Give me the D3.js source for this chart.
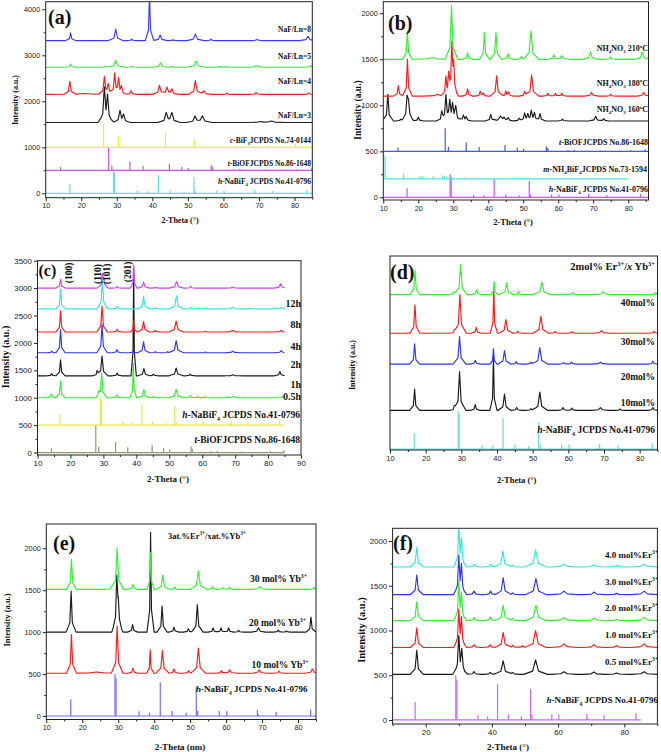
<!DOCTYPE html>
<html><head><meta charset="utf-8">
<script src="https://cdn.jsdelivr.net/npm/d3@7"></script>
<style>body{margin:0;background:#fff}svg{display:block}</style>
</head><body>
<script>
// ================= DATA =================
// Reference stick patterns [2theta, relative intensity]
const hNaBiF4 = [[16.8,200],[29.1,500],[29.4,450],[35.8,55],[38.7,40],[41.7,400],[45.0,60],[48.9,40],[51.7,350],[52.1,60],[58.1,60],[60.2,60],[68.7,70],[69.0,20],[73.9,50],[83.5,75]];
const tBiOF = [[14.2,80],[27.7,500],[28.6,100],[33.7,190],[37.4,95],[44.8,140],[48.3,80],[50.1,50],[56.6,110],[57.0,70],[62.8,25],[64.6,30],[72.0,20],[77.5,15],[80.7,25],[84.8,40]];
const cBiF3 = [[15.2,10],[26.3,500],[30.5,240],[43.7,330],[51.8,170],[54.3,40],[63.5,30],[70.2,30],[72.2,40],[80.2,80]];
const mNH4BiF4 = [[10.5,250],[15.8,50],[20.5,30],[21.3,30],[24.3,30],[26.9,40],[27.5,30],[28.0,20],[33.4,15],[36.2,10],[38.0,10],[43.6,10],[48.6,10],[50.0,10],[51.0,10]];

// Tick labels
const xTicks10to80 = [10,20,30,40,50,60,70,80];
const xTicks10to90 = [10,20,30,40,50,60,70,80,90];
const xTicksF = [20,40,60,80];
const aYTicks = [0,1000,2000,3000,4000];
const bYTicks = [0,500,1000,1500,2000];
const cYTicks = [0,500,1000,1500,2000,2500,3000,3500];
const eYTicks = [0,500,1000,1500,2000];
const fYTicks = [0,500,1000,1500,2000];

// Panel (a): NaF/Ln ratio  — peaks [2theta, height, halfwidth?]
const aSeries = ["NaF/Ln=8","NaF/Ln=5","NaF/Ln=4","NaF/Ln=3"];
const aOffsets = [3320,2740,2150,1540];
const aPeaks = [
 [[17.0,170],[29.7,250,0.5],[34.2,30],[39.2,1000,0.3],[42.2,120,0.5],[45.8,15],[52.1,140,0.6],[56.5,30],[69.5,25,0.6],[83.8,90,0.6]],
 [[17.0,70],[26.8,25],[29.7,150,0.6],[34.2,25],[42.3,100,0.5],[45.5,20],[52.3,140,0.6],[59,15],[61,15],[69.3,40,0.6],[84.5,30,0.6]],
 [[16.8,280],[21,20,3],[26.5,370],[27.6,200],[29.4,440],[30.5,300],[31.3,150],[34.0,80],[42.0,200,0.5],[44.1,150,0.5],[45.5,110,0.5],[52.1,300,0.5],[54.5,80,0.6],[61,30],[69.2,40],[84,30]],
 [[26.5,700,0.45],[27.4,510,0.45],[30.9,240],[31.9,150],[43.9,200,0.6],[45.5,200,0.6],[52.0,130,0.6],[54.1,140,0.7],[70.4,20,1],[73.5,30,1]]
];

// Panel (b): NH4NO3 temperature
const bSeries = ["210","180","160"];
const bOffsets = [1500,1100,830];
const bPeaks = [
 [[16.9,310],[24,20,1.5],[29.5,580,0.45],[34.1,70],[38.9,290],[42.2,290,0.4],[45.6,60],[49.5,30],[52.2,310,0.55],[58.7,50],[61,40,0.5],[69.2,80,0.5],[74.9,25],[84,80,0.5]],
 [[14.3,115],[16.9,400],[25.5,20,1],[27.9,190],[28.7,190],[29.6,520],[30.1,300],[34.1,80],[37.7,50],[38.6,30],[42.4,220,0.45],[45.0,50],[45.8,40],[50.4,50],[52.4,230,0.5],[57,30],[59.2,30],[61,30],[69.5,40,0.5],[75,20],[84.4,40,0.5]],
 [[11.3,290],[15,20],[16.8,240],[17.2,180],[20.0,40],[26.7,90],[27.9,265],[29.0,180],[29.8,150],[30.7,150,0.5],[32.9,60],[33.7,40],[40.7,70],[43.5,50,0.8],[44.5,30],[45.7,30],[48.8,30],[50.4,80],[51.3,60],[52.3,100],[53.2,80],[54.8,80],[61.2,20],[70.7,50,0.5],[73,25]]
];

// Panel (c): reaction time
const cSeries = ["12h","8h","4h","2h","1h","0.5h"];
const cOffsets = [3000,2620,2200,1820,1400,1000];
const cPeaks = [
 [[17.0,165],[29.7,240,0.4],[30.1,120],[34.2,30],[39.2,420,0.25],[42.2,110,0.45],[45.8,15],[52.2,120,0.55],[56.5,30],[69.3,20,0.6],[83.8,80,0.5]],
 [[17.0,360],[29.7,560,0.4],[34.2,50],[42.2,230,0.45],[45.8,20],[52.2,240,0.55],[56.5,30],[59,20],[61,20],[69.3,30,0.6],[74.5,15],[84,30,0.5]],
 [[17.0,380],[29.6,470,0.4],[34.2,50],[39.2,200,0.25],[42.2,190,0.45],[45.8,30],[52.1,200,0.55],[61,15],[69.3,30,0.6],[84,30,0.5]],
 [[14.3,30],[17.0,420],[29.6,510,0.4],[34.1,60],[39.0,30],[42.2,200,0.45],[45.8,20],[49.5,20],[52.1,220,0.55],[61,15],[69.3,30,0.6],[84,40,0.5]],
 [[14.3,40],[17.0,290],[28.1,80],[29.6,360,0.45],[34.2,50],[39.2,1950,0.2],[42.3,130,0.45],[45.2,30],[52.1,140,0.55],[56.4,30],[69.3,20,0.6],[83.6,80,0.4]],
 [[14.2,70],[17.0,305],[28.6,70],[29.5,445,0.4],[34.1,50],[39.1,630,0.25],[42.3,150,0.45],[45.3,25],[52.1,150,0.55],[56.4,40],[58.7,20],[61,20],[69.3,25,0.6],[84.5,20,0.5]]
];

// Panel (d): Yb content
const dSeries = ["40mol%","30mol%","20mol%","10mol%"];
const dOffsets = [1600,1200,880,400];
const dPeaks = [
 [[17.0,255],[27.9,30],[29.8,310,0.45],[34.3,50],[39.2,135,0.25],[42.7,120,0.5],[46.0,30],[52.6,130,0.6],[61.3,20],[69.8,30,0.6],[84.5,20]],
 [[17.0,295],[28,20],[29.6,400,0.45],[34.2,60],[39.1,460,0.25],[42.5,140,0.5],[45.8,20],[52.3,175,0.55],[56.3,20],[61.1,15],[69.3,25,0.6],[84,20]],
 [[16.9,210],[29.5,285,0.45],[33.9,40],[39.0,160,0.25],[42.1,140,0.45],[45.4,25],[49.5,20],[52.0,170,0.55],[58.7,15],[60.9,20],[69,20,0.6],[83.7,30]],
 [[16.9,220],[28,30],[29.5,400,0.45],[33.9,60],[39.0,560,0.25],[42.1,170,0.45],[45.5,30],[49.5,20],[52.0,190,0.55],[58.5,30],[61,25],[69,30,0.6],[74.5,15],[83.7,30]]
];

// Panel (e): Yb content
const eSeries = ["30","20","10"];
const eOffsets = [1510,1000,510];
const ePeaks = [
 [[17.0,360],[28,20],[29.7,490,0.45],[34.1,60],[39.0,440,0.25],[42.4,170,0.45],[45.7,30],[52.3,220,0.55],[56.2,30],[59,20],[61,25],[69.5,35,0.6],[84.5,25]],
 [[16.9,490],[29.6,620,0.35],[30.0,300],[34.0,90],[39.0,1190,0.25],[42.2,310,0.35],[45.5,60],[49.5,40],[52.0,330,0.4],[56.4,50],[58.6,50],[60.7,50],[63.5,20],[69,50,0.5],[74.5,25],[76.8,15],[83.6,180,0.35]],
 [[17.0,460],[24,15,2],[29.7,560,0.4],[34.1,60],[38.9,280,0.25],[42.3,270,0.45],[45.5,50],[49.6,30],[52.3,300,0.5],[58.7,30],[61,40,0.5],[69.2,40,0.5],[74.7,25],[84,50,0.5]]
];

// Panel (f): Er content
const fSeries = ["4.0","3.0","2.0","1.0","0.5"];
const fOffsets = [1710,1400,1110,810,510];
const fPeaks = [
 [[17.3,220],[30.0,430,0.4],[30.8,260,0.4],[34.6,30],[39.6,30],[43.3,180,0.6],[46.3,20],[53.2,190,0.8],[61.8,30,1],[70.9,25,0.8],[77.7,15,0.8],[86.0,30,1]],
 [[17.3,220],[30.0,400,0.4],[30.8,290,0.4],[34.6,40],[39.6,40],[43.4,190,0.6],[46.3,20],[53.3,180,0.8],[61.8,40,1],[70.9,30,0.8],[77.7,15,0.8],[86,40,1]],
 [[17.3,210],[30.0,400,0.4],[30.8,260,0.4],[34.6,35],[39.5,40],[43.4,170,0.6],[46.2,25],[53.3,170,0.8],[61.8,35,1],[70.9,30,0.8],[77.7,15,0.8],[86,40,1]],
 [[17.3,220],[30.0,390,0.4],[30.8,290,0.4],[34.6,30],[39.4,30],[43.4,170,0.6],[46.3,25],[49.2,20],[53.2,190,0.8],[61.8,40,1],[70.8,30,0.8],[77.7,20,0.8],[86,40,1]],
 [[17.3,270,0.5],[30.0,400,0.45],[30.9,230,0.45],[34.6,30],[39.5,20],[43.4,150,0.7],[46.3,20],[53.2,160,0.9],[61.8,30,1],[70.8,25,0.8],[77.7,15,0.8],[86,30,1]]
];

// ================= COLOURS =================
const GREEN="#33ee33", RED="#ff1a1a", BLUE="#2f35f0", BLACK="#1a1a1a", VIOLET="#cc44ee", CYAN="#33e6e0";

// ================= DRAWING =================
const svg = d3.select("body").append("svg").attr("width",661).attr("height",752)
  .style("font-family","'Liberation Serif','Times New Roman',serif");

function curve(peaks, base, w0, xr){
  const comps=[];
  peaks.forEach(p=>{const w=p[2]||w0; comps.push([p[0],p[1]*0.7,w]); comps.push([p[0],p[1]*0.3,w*4]);});
  const xs=new Set([xr[0],xr[1]]);
  comps.forEach(c=>[c[0]-c[2],c[0],c[0]+c[2]].forEach(v=>{if(v>xr[0]&&v<xr[1])xs.add(v);}));
  return [...xs].sort((a,b)=>a-b).map(x=>[x, base+d3.sum(comps,c=>Math.max(0,1-Math.abs(x-c[0])/c[2])*c[1])]);
}

function rich(sel, str, fs){
  const parts=str.split(/(\*[^*]+\*|_\{[^}]+\}|\^\{[^}]+\})/).filter(s=>s.length);
  let shift=0;
  parts.forEach(p=>{
    let t=p, target=0, size=fs, it=false;
    if(p[0]==="*"){t=p.slice(1,-1);it=true;}
    else if(p.startsWith("_{")){t=p.slice(2,-1);target=fs*0.28;size=fs*0.62;}
    else if(p.startsWith("^{")){t=p.slice(2,-1);target=-fs*0.42;size=fs*0.62;}
    const ts=sel.append("tspan").text(t).attr("dy",(target-shift).toFixed(2)).attr("font-size",size);
    if(it) ts.attr("font-style","italic");
    shift=target;
  });
}

function text(g, t, x, y, fs, anchor, rot){
  const el=g.append("text").attr("font-weight","bold").attr("font-size",fs)
    .attr("text-anchor",anchor||"start").attr("fill","#111");
  if(rot){ el.attr("transform",`translate(${x},${y}) rotate(-90)`); }
  else el.attr("x",x).attr("y",y);
  rich(el,t,fs);
  return el;
}

let clipId=0;
function panel(cfg){
  const g=svg.append("g");
  const x=d3.scaleLinear().domain(cfg.xd).range([cfg.x0,cfg.x1]);
  const y=d3.scaleLinear().domain(cfg.yd).range([cfg.y1,cfg.y0]);
  const cid="clip"+(clipId++);
  g.append("clipPath").attr("id",cid).append("rect")
    .attr("x",cfg.x0).attr("y",cfg.y0).attr("width",cfg.x1-cfg.x0).attr("height",cfg.y1-cfg.y0);
  const plot=g.append("g").attr("clip-path",`url(#${cid})`);
  const line=d3.line().x(d=>x(d[0])).y(d=>y(d[1]));
  (cfg.sticks||[]).forEach(s=>{
    const sg=plot.append("g").attr("stroke",s.color).attr("stroke-width",1.2);
    sg.append("path").attr("fill","none").attr("d",line([[s.range[0],s.base],[s.range[1],s.base]]));
    sg.selectAll("line.st").data(s.data).join("line")
      .attr("x1",d=>x(d[0])).attr("x2",d=>x(d[0]))
      .attr("y1",y(s.base)).attr("y2",d=>y(s.base+d[1]*s.scale));
  });
  (cfg.series||[]).forEach(s=>{
    plot.append("path").attr("fill","none").attr("stroke",s.color).attr("stroke-width",1.15)
      .attr("stroke-linejoin","round")
      .attr("d",line(curve(s.peaks,s.base,s.w,s.range||[cfg.xd[0],cfg.xd[1]])));
  });
  g.append("rect").attr("x",cfg.x0).attr("y",cfg.y0).attr("width",cfg.x1-cfg.x0).attr("height",cfg.y1-cfg.y0)
    .attr("fill","none").attr("stroke","#222").attr("stroke-width",1);
  const tf=g=>g.selectAll("text").attr("font-family","'Liberation Sans',Arial,sans-serif").attr("font-size",cfg.tickFs).attr("fill","#222");
  const xa=g.append("g").attr("transform",`translate(0,${cfg.y1})`)
    .call(d3.axisBottom(x).tickValues(cfg.xticks).tickSize(3.5).tickPadding(2).tickFormat(d3.format("d")));
  xa.call(tf); xa.select(".domain").remove();
  const xm=g.append("g").attr("transform",`translate(0,${cfg.y1})`)
    .call(d3.axisBottom(x).tickValues(cfg.xminor).tickSize(2).tickFormat(""));
  xm.select(".domain").remove();
  if(cfg.yticks){
    const ya=g.append("g").attr("transform",`translate(${cfg.x0},0)`)
      .call(d3.axisLeft(y).tickValues(cfg.yticks).tickSize(3.5).tickPadding(2).tickFormat(d3.format("d")));
    ya.call(tf); ya.select(".domain").remove();
    const ym=g.append("g").attr("transform",`translate(${cfg.x0},0)`)
      .call(d3.axisLeft(y).tickValues(cfg.yminor).tickSize(2).tickFormat(""));
    ym.select(".domain").remove();
  }
  g.selectAll(".tick line").attr("stroke","#222");
  (cfg.texts||[]).forEach(t=>text(g,t[0],t[1],t[2],t[3],t[4],t[5]));
  return g;
}
const minor=(a,b,s)=>d3.range(a,b+1e-9,s);
const NaLabel="*h*-NaBiF_{4} JCPDS No.41-0796";

// (a)
panel({x0:45.7,x1:312.3,y0:1.7,y1:197.7,xd:[10,85],yd:[-95,4165],
  xticks:xTicks10to80,xminor:minor(15,85,10),yticks:aYTicks,yminor:[500,1500,2500,3500],tickFs:7.3,
  sticks:[{data:hNaBiF4,base:0,scale:1,color:"#5fe0e0",range:[10,85]},
          {data:tBiOF,base:500,scale:1,color:"#cc55ee",range:[10,85]},
          {data:cBiF3,base:1000,scale:1,color:"#eeee33",range:[10,85]}],
  series:[{peaks:aPeaks[3],base:aOffsets[3],w:0.5,color:BLACK},
          {peaks:aPeaks[2],base:aOffsets[2],w:0.4,color:RED},
          {peaks:aPeaks[1],base:aOffsets[1],w:0.4,color:GREEN},
          {peaks:aPeaks[0],base:aOffsets[0],w:0.35,color:"#3b3bff"}],
  texts:[["(a)",48,24,20],
    [aSeries[0],311,32,7.5,"end"],[aSeries[1],311,59,7.5,"end"],[aSeries[2],311,83.5,7.5,"end"],[aSeries[3],311,117.5,7.5,"end"],
    ["*c*-BiF_{3}JCPDS No.74-0144",311,142.5,7.5,"end"],["*t*-BiOFJCPDS No.86-1648",311,166,7.5,"end"],[NaLabel,311,184,7.5,"end"],
    ["Intensity (a.u.)",18,100,8,"middle",true],["2-Theta (°)",180,223,8,"middle"]]
});

// (b)
panel({x0:383.3,x1:648.5,y0:1.7,y1:200,xd:[10,85.8],yd:[-29,2126],
  xticks:xTicks10to80,xminor:minor(15,85,10),yticks:bYTicks,yminor:[250,750,1250,1750],tickFs:7.3,
  sticks:[{data:hNaBiF4,base:0,scale:0.5,color:"#cc55ee",range:[10,85.8]},
          {data:mNH4BiF4,base:200,scale:1,color:"#44e8e0",range:[10,80]},
          {data:tBiOF,base:500,scale:0.5,color:"#4455ee",range:[10,85.8]}],
  series:[{peaks:bPeaks[2],base:bOffsets[2],w:0.4,color:BLACK},
          {peaks:bPeaks[1],base:bOffsets[1],w:0.35,color:RED},
          {peaks:bPeaks[0],base:bOffsets[0],w:0.35,color:GREEN}],
  texts:[["(b)",388,30,20],
    ["NH_{4}NO_{3} "+bSeries[0]+"^{o}C",648,51,8,"end"],["NH_{4}NO_{3} "+bSeries[1]+"^{o}C",648,85.5,8,"end"],["NH_{4}NO_{3} "+bSeries[2]+"^{o}C",648,112,8,"end"],
    ["*t*-BiOFJCPDS No.86-1648",648,144.5,8,"end"],["*m*-NH_{4}BiF_{4}JCPDS No.73-1594",647,172,8,"end"],[NaLabel,648,192,8,"end"],
    ["Intensity (a.u.)",361,110,9.5,"middle",true],["2-Theta (°)",513,225,8.5,"middle"]]
});

// (c)
panel({x0:37.5,x1:301,y0:260.7,y1:455,xd:[10,90],yd:[-45,3500],
  xticks:xTicks10to90,xminor:minor(15,85,10),yticks:cYTicks,yminor:minor(250,3250,500),tickFs:8,
  sticks:[{data:tBiOF,base:0,scale:1,color:"#8c9a6e",range:[10,85]},
          {data:hNaBiF4,base:500,scale:1,color:"#e8e840",range:[10,85]}],
  series:[5,4,3,2,1,0].map(i=>({peaks:cPeaks[i],base:cOffsets[i],w:0.35,range:[10,85],
          color:[VIOLET,CYAN,RED,BLUE,BLACK,GREEN][i]})),
  texts:[["(c)",38.5,276,16],
    ["(100)",72,273,9.5,"middle",true],["(110)",101,274,9.5,"middle",true],["(101)",110,274,9.5,"middle",true],["(201)",131,272,9.5,"middle",true],
    [cSeries[0],301,307,10,"end"],[cSeries[1],301,328,10,"end"],[cSeries[2],301,350,10,"end"],[cSeries[3],301,368,10,"end"],[cSeries[4],301,388,10,"end"],[cSeries[5],301,400,10,"end"],
    [NaLabel,300,418,9.5,"end"],["*t*-BiOFJCPDS No.86-1648",300,443,9.5,"end"],
    ["Intensity (a.u.)",8.5,357,10,"middle",true],["2-Theta (°)",168,482,9,"middle"]]
});

// (d)
panel({x0:390,x1:657.5,y0:256,y1:450,xd:[10,85],yd:[-10,2000],
  xticks:xTicks10to80,xminor:minor(15,85,10),tickFs:7.5,
  sticks:[{data:hNaBiF4,base:0,scale:0.8,color:"#5fe0d8",range:[10,85]}],
  series:[3,2,1,0].map(i=>({peaks:dPeaks[i],base:dOffsets[i],w:0.35,color:[GREEN,RED,BLUE,BLACK][i]})),
  texts:[["(d)",390,279,20],["2mol% Er^{3+}/*x* Yb^{3+}",655,270,10.5,"end"],
    [dSeries[0],655,306,9.5,"end"],[dSeries[1],655,345,9.5,"end"],[dSeries[2],655,380,9.5,"end"],[dSeries[3],655,406,9.5,"end"],
    [NaLabel,655,433,9.5,"end"],
    ["Intensity (a.u.)",354.5,365,8,"middle",true],["2-Theta (°)",516.7,483,8.5,"middle"]]
});

// (e)
panel({x0:46.3,x1:316,y0:524,y1:719.5,xd:[10,85],yd:[-42,2290],
  xticks:xTicks10to80,xminor:minor(15,85,10),yticks:eYTicks,yminor:[250,750,1250,1750],tickFs:7.3,
  sticks:[{data:hNaBiF4,base:0,scale:1,color:"#7070ff",range:[10,85]}],
  series:[2,1,0].map(i=>({peaks:ePeaks[i],base:eOffsets[i],w:0.35,color:[GREEN,BLACK,RED][i]})),
  texts:[["(e)",53,550,20],["3at.%Er^{3+}/xat.%Yb^{3+}",168,539,8.5],
    [eSeries[0]+" mol% Yb^{3+}",250,582,9.5],[eSeries[1]+" mol% Yb^{3+}",249,626,9.5],[eSeries[2]+" mol% Yb^{3+}",251.5,668,9.5],
    [NaLabel,196,692,9],
    ["Intensity (a.u.)",10,620,8.5,"middle",true],["2-Theta (nm)",180,750,9,"middle"]]
});

// (f)
panel({x0:392.6,x1:657.4,y0:528.3,y1:724,xd:[10,90],yd:[-45,2142],
  xticks:xTicksF,xminor:minor(10,90,20),yticks:fYTicks,yminor:[250,750,1250,1750],tickFs:7.8,
  sticks:[{data:hNaBiF4,base:0,scale:1,color:"#cc66ee",range:[10,85]}],
  series:[4,3,2,1,0].map(i=>({peaks:fPeaks[i],base:fOffsets[i],w:0.5,color:[CYAN,BLUE,GREEN,RED,BLACK][i]})),
  texts:[["(f)",393,550,20],
    [fSeries[0]+" mol%Er^{3+}",658,558,9,"end"],[fSeries[1]+" mol%Er^{3+}",658,585,9,"end"],[fSeries[2]+" mol%Er^{3+}",658,611,9,"end"],
    [fSeries[3]+" mol%Er^{3+}",658,638,9,"end"],[fSeries[4]+" mol%Er^{3+}",658,665,9,"end"],
    [NaLabel,658,703,9,"end"],
    ["Intensity (a.u.)",365,630,10.5,"middle",true],["2-Theta (°)",508,750,9,"middle"]]
});
</script>
</body></html>
